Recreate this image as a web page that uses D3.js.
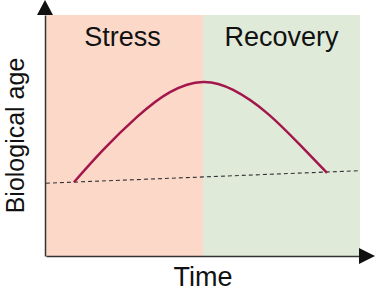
<!DOCTYPE html>
<html>
<head>
<meta charset="utf-8">
<script src="https://cdn.jsdelivr.net/npm/d3@7"></script>
<style>
  html, body { margin: 0; padding: 0; background: #ffffff; }
  svg { display: block; }
  text { font-family: "Liberation Sans", Arial, sans-serif; fill: #111; }
</style>
</head>
<body>
<svg id="chart" width="375" height="300"></svg>
<script>
// ---- data ----
const phases = ["Stress", "Recovery"];
const phaseStart = [0, 50];
const phaseEnd = [50, 100];
const phaseColors = ["#fbd8c8", "#dfead9"];

const curveTime = [8.9, 18.2, 29.0, 39.5, 50, 59.6, 70.4, 80.9, 89.5];
const curveAge  = [30.6, 44.0, 57.7, 68.0, 72.2, 68.9, 59.3, 46.1, 34.5];

const baselineTime = [0, 100];
const baselineAge  = [30.2, 35.4];

const xLabel = "Time";
const yLabel = "Biological age";

// ---- layout ----
const svg = d3.select("#chart");
const x = d3.scaleLinear().domain([0, 100]).range([46, 360]);
const y = d3.scaleLinear().domain([0, 100]).range([256, 15]);

// phase backgrounds
svg.append("g").selectAll("rect")
  .data(phases)
  .join("rect")
  .attr("x", (d, i) => x(phaseStart[i]))
  .attr("y", y(100))
  .attr("width", (d, i) => x(phaseEnd[i]) - x(phaseStart[i]))
  .attr("height", y(0) - y(100))
  .attr("fill", (d, i) => phaseColors[i]);

// phase labels
svg.append("g").selectAll("text")
  .data(phases)
  .join("text")
  .attr("x", (d, i) => x((phaseStart[i] + phaseEnd[i]) / 2) - (i === 0 ? 2 : 0))
  .attr("y", 46)
  .attr("text-anchor", "middle")
  .attr("font-size", 27)
  .text(d => d);

// dashed baseline
const line = d3.line().x(d => x(d[0])).y(d => y(d[1]));
svg.append("path")
  .datum(baselineTime.map((t, i) => [t, baselineAge[i]]))
  .attr("d", line)
  .attr("fill", "none")
  .attr("stroke", "#333")
  .attr("stroke-width", 1.1)
  .attr("stroke-dasharray", "4,3");

// curve
svg.append("path")
  .datum(curveTime.map((t, i) => [t, curveAge[i]]))
  .attr("d", d3.line().x(d => x(d[0])).y(d => y(d[1])).curve(d3.curveNatural))
  .attr("fill", "none")
  .attr("stroke", "#a3164c")
  .attr("stroke-width", 2.5)
  .attr("stroke-linecap", "butt");

// axes (no ticks)
const xAxis = d3.axisBottom(x).tickValues([]).tickSizeOuter(0);
const yAxis = d3.axisLeft(y).tickValues([]).tickSizeOuter(0);
const gx = svg.append("g").attr("transform", `translate(0,${y(0)})`).call(xAxis);
const gy = svg.append("g").attr("transform", `translate(${x(0) - 1},0)`).call(yAxis);
[gx, gy].forEach(g => g.select(".domain").attr("stroke", "#333").attr("stroke-width", 1.5));

// arrowheads
const x0 = x(0) - 1, yTop = y(100), yBot = y(0), xRight = x(100);
svg.append("path")
  .attr("d", `M${x0 - 8},${yTop} L${x0 + 8},${yTop} L${x0},${yTop - 15} Z`)
  .attr("fill", "#111");
svg.append("path")
  .attr("d", `M${xRight - 1},${yBot - 8} L${xRight - 1},${yBot + 8} L${xRight + 15},${yBot} Z`)
  .attr("fill", "#111");

// axis labels
svg.append("text")
  .attr("x", (x(0) + x(100)) / 2)
  .attr("y", 286)
  .attr("text-anchor", "middle")
  .attr("font-size", 27)
  .text(xLabel);

svg.append("text")
  .attr("transform", `translate(24,${(y(0) + y(100)) / 2}) rotate(-90)`)
  .attr("text-anchor", "middle")
  .attr("font-size", 25)
  .text(yLabel);
</script>
</body>
</html>
